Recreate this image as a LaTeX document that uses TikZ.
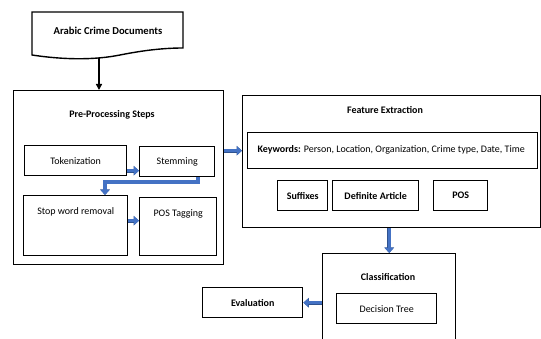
\documentclass[tikz,border=0pt]{standalone}
\usepackage{fontspec}
\setmainfont{Carlito}
\usetikzlibrary{arrows.meta,calc}
\definecolor{flowblue}{RGB}{68,114,196}
\definecolor{flowedge}{RGB}{47,82,143}
\tikzset{
  box/.style={draw, line width=1.4pt, inner sep=0pt, anchor=north west, font=\fontsize{10}{12}\selectfont},
  title/.style={font=\bfseries\fontsize{10}{12}\selectfont},
  plain/.style={font=\fontsize{10}{12}\selectfont},
  boldbox/.style={box, font=\bfseries\fontsize{10}{12}\selectfont},
  flow/.style={line width=3.4pt, flowblue, -{Triangle[length=5pt,width=8.5pt]},
    preaction={draw=flowedge, line width=4.2pt, -{Triangle[length=5.5pt,width=9.5pt]}}}
}
\begin{document}
\begin{tikzpicture}[x=1pt,y=-1pt]
    \clip (0,0) rectangle (541,339);
    \useasboundingbox (0,0) rectangle (541,339);

    % Input document
    \draw[line width=1.4pt] (32,12) -- (183,12) -- (183,48)
        .. controls (165,48) and (145,50) .. (120,55)
        .. controls (95,60) and (65,60) .. (32,55) -- cycle;
    \node[title, font=\bfseries\fontsize{10.6}{12}\selectfont] (doc) at (108,31) {Arabic Crime Documents};
    \coordinate (docbot) at (99,58);

    % Pre-processing
    \node[box, minimum width=210, minimum height=174] (pre) at (13,90) {};
    \node[title] (pretitle) at (112,115) {Pre-Processing Steps};
    \node[box, minimum width=102, minimum height=30] (tok) at (24,145) {Tokenization};
    \node[box, minimum width=75, minimum height=30] (stem) at (139,146) {Stemming};
    \node[box, minimum width=104, minimum height=60] (stop) at (23,195) {};
    \node[plain] (stoptext) at ($(stop.north)+(0,17)$) {Stop word removal};
    \node[box, minimum width=77, minimum height=58] (postag) at (139,197) {};
    \node[plain] (postagtext) at ($(postag.north)+(0,17)$) {POS Tagging};

    % Feature extraction
    \node[box, minimum width=298, minimum height=132] (feat) at (242,95) {};
    \node[title] (feattitle) at (385,110) {Feature Extraction};
    \node[box, minimum width=290, minimum height=36] (kw) at (247,132) {};
    \node[plain, anchor=west] (kwtext) at (254,150) {\textbf{Keywords:} Person, Location, Organization, Crime type, Date, Time};
    \node[boldbox, minimum width=50, minimum height=30] (suf) at (277,180) {Suffixes};
    \node[boldbox, minimum width=86, minimum height=30] (defart) at (332,180) {Definite Article};
    \node[boldbox, minimum width=54, minimum height=30] (pos) at (433,180) {POS};

    % Classification and evaluation
    \node[box, minimum width=133, minimum height=110] (class) at (322,253) {};
    \node[title] (classtitle) at (388,277) {Classification};
    \node[box, minimum width=100, minimum height=30] (tree) at (336,293) {Decision Tree};
    \node[boldbox, minimum width=100, minimum height=30] (eval) at (202,287) {Evaluation};

    % Arrows
    \draw[line width=1.4pt, -{Triangle[length=6pt,width=6pt]}] (docbot) -- (docbot |- pre.north);
    \draw[flow] ([yshift=-10pt]tok.east) -- ([yshift=-10pt]tok.east -| stem.west);
    \draw[flow] (stem.south -| 198,0) -- (198,182) -- (105,182) -- (105,182 |- stop.north);
    \draw[flow] ([yshift=5pt]stop.east) -- ([yshift=5pt]stop.east -| postag.west);
    \draw[flow] (pre.east |- kw) -- (feat.west |- kw);
    \draw[flow] (feat.south -| class.north) -- (class.north);
    \draw[flow] (class.west |- eval) -- (eval.east);
\end{tikzpicture}
\end{document}
